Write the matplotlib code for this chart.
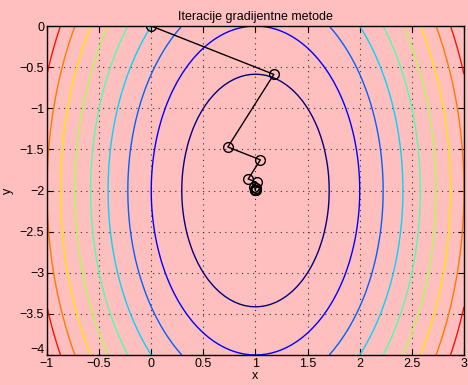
import numpy as np
import matplotlib
matplotlib.use("Agg")
import matplotlib.pyplot as plt
import matplotlib.transforms as mtransforms
from matplotlib.colors import Normalize

# contour levels of f(x,y) = 4(x-1)^2 + (y+2)^2
levels = [2, 4, 6, 8, 10, 12, 14, 16, 18]
# gradient method iterates
iter_x = [0.0, 1.176, 0.735, 1.047, 0.930, 1.012, 0.981, 1.003, 0.995, 1.001, 0.999, 1.000]
iter_y = [0.0, -0.588, -1.471, -1.627, -1.860, -1.901, -1.963, -1.974, -1.990, -1.993, -1.997, -1.998]
xticks = [-1, -0.5, 0, 0.5, 1, 1.5, 2, 2.5, 3]
yticks = [-4, -3.5, -3, -2.5, -2, -1.5, -1, -0.5, 0]

plt.rcParams['font.family'] = ['Liberation Sans', 'DejaVu Sans']
bg = '#ffbfbf'
fig = plt.figure(figsize=(4.68, 3.85), dpi=100, facecolor=bg)
ax = fig.add_axes([0.1004, 0.0779, 0.891, 0.8545], facecolor=bg)

gx = np.linspace(-1, 3, 81)
gy = np.linspace(-4, 0, 81)
X, Y = np.meshgrid(gx, gy)
Z = 4 * (X - 1) ** 2 + (Y + 2) ** 2
ax.contour(X, Y, Z, levels=levels, cmap='jet', norm=Normalize(2, 20), linewidths=1.0)

ax.plot(iter_x, iter_y, '-', color='black', linewidth=1.0)
ax.plot(iter_x, iter_y, 'o', mfc='none', mec='black', markersize=7, mew=1.0)

ax.set_xlim(-1, 3)
ax.set_ylim(-4, 0)
ax.set_xticks(xticks)
ax.set_yticks(yticks)
ax.set_xticklabels(['\u22121', '\u22120.5', '0', '0.5', '1', '1.5', '2', '2.5', '3'])
ax.set_yticklabels(['\u22124', '\u22123.5', '\u22123', '\u22122.5', '\u22122', '\u22121.5', '\u22121', '\u22120.5', '0'])
ax.tick_params(direction='in', length=4, labelsize=9, top=True, right=True, pad=2)
ax.grid(True, linestyle=(0, (1, 4)), color='#333333', linewidth=0.8)
for s in ax.spines.values():
    s.set_linewidth(1.0)
ax.set_title('Iteracije gradijentne metode', fontsize=9, pad=4)
ax.set_xlabel('x', fontsize=9, labelpad=0)
ax.set_ylabel('y', fontsize=9, labelpad=4)

# shift bottom y tick label up a little (as in the reference)
lab = ax.get_yticklabels()[0]
lab.set_transform(lab.get_transform() + mtransforms.ScaledTranslation(0, 7 / 100, fig.dpi_scale_trans))

fig.savefig('out.png', dpi=100, facecolor=bg)
